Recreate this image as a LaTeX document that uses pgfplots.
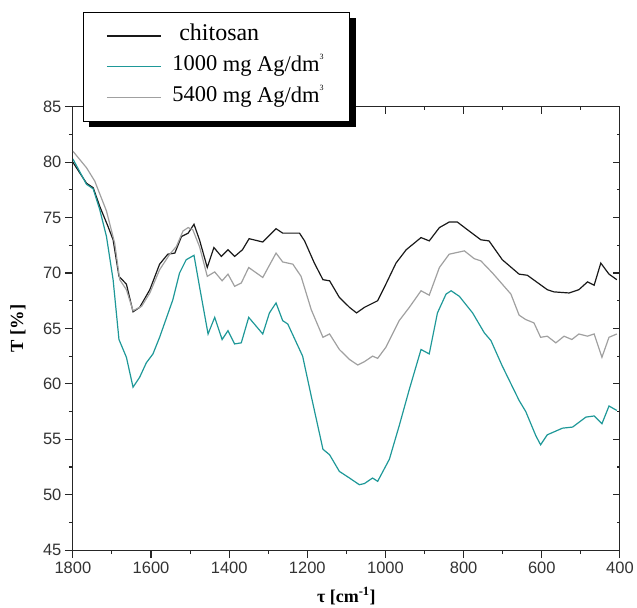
\documentclass[border=0pt]{standalone}
\usepackage{fontspec}
\setmainfont{Liberation Serif}
\newfontfamily\sansf{Liberation Sans}
\usepackage{pgfplots}
\pgfplotsset{compat=1.18}
\usetikzlibrary{shadows}
\definecolor{tealc}{RGB}{30,152,152}
\definecolor{grayc}{RGB}{160,160,160}
\definecolor{blackc}{RGB}{25,25,25}

\pgfplotstableread{
x y
1800 80.0
1765 78.1
1748 77.7
1731 76.0
1710 74.2
1697 73.0
1682 69.7
1663 69.0
1646 66.5
1629 66.9
1603 68.5
1578 70.8
1557 71.7
1539 71.8
1522 73.3
1505 73.6
1490 74.4
1476 73.0
1456 70.5
1439 72.3
1420 71.5
1403 72.1
1386 71.5
1366 72.1
1349 73.1
1314 72.8
1280 74.0
1263 73.6
1220 73.6
1207 72.9
1182 70.9
1160 69.4
1143 69.3
1118 67.8
1092 66.9
1074 66.4
1054 66.9
1020 67.5
1003 68.7
973 70.9
947 72.1
909 73.2
888 72.9
862 74.1
837 74.6
816 74.6
790 73.9
756 73.0
735 72.9
701 71.2
658 69.9
637 69.8
586 68.5
569 68.3
530 68.2
505 68.5
483 69.2
466 68.9
449 70.9
428 69.9
408 69.4
}\chitosan

\pgfplotstableread{
x y
1800 80.3
1765 78.0
1748 77.6
1731 75.7
1714 73.3
1697 69.4
1682 64.0
1663 62.4
1646 59.7
1629 60.6
1612 61.9
1595 62.7
1578 64.2
1544 67.6
1527 70.0
1510 71.2
1490 71.6
1476 68.8
1454 64.5
1437 66.0
1418 64.0
1403 64.8
1386 63.6
1369 63.7
1350 66.0
1314 64.5
1297 66.4
1280 67.3
1263 65.7
1250 65.4
1212 62.5
1190 58.9
1160 54.1
1143 53.6
1118 52.1
1092 51.5
1067 50.9
1054 51.0
1033 51.5
1020 51.2
990 53.2
965 56.2
939 59.5
909 63.1
888 62.7
867 66.4
845 68.1
832 68.4
811 67.9
777 66.4
747 64.6
730 63.9
701 61.6
658 58.5
641 57.5
615 55.3
603 54.5
586 55.4
547 56.0
521 56.1
487 57.0
466 57.1
446 56.4
428 58.0
408 57.6
}\thousand

\pgfplotstableread{
x y
1800 81.0
1765 79.5
1744 78.3
1714 75.6
1693 72.7
1680 69.4
1663 68.5
1646 66.6
1624 67.0
1603 68.2
1578 70.3
1552 71.7
1535 72.4
1518 73.8
1505 74.1
1493 73.9
1476 72.4
1456 69.7
1437 70.1
1418 69.3
1403 69.9
1386 68.8
1369 69.1
1350 70.5
1314 69.6
1280 71.8
1263 71.0
1237 70.8
1216 69.7
1190 66.7
1160 64.2
1143 64.5
1118 63.1
1092 62.2
1071 61.7
1054 62.0
1033 62.5
1020 62.3
999 63.3
965 65.7
939 66.9
909 68.4
888 68.0
862 70.5
837 71.7
798 72.0
773 71.3
756 71.1
726 70.0
679 68.1
658 66.2
641 65.8
620 65.5
603 64.2
586 64.3
564 63.7
543 64.3
523 64.0
505 64.5
483 64.3
466 64.5
446 62.4
428 64.2
408 64.5
}\fivek

\pgfplotsset{
  myaxis/.style={
    width=548pt, height=444pt, scale only axis,
    xmin=400, xmax=1800, ymin=45, ymax=85, x dir=reverse,
    xtick={400,600,...,1800}, ytick={45,50,...,85},
    minor x tick num=1, minor y tick num=1,
    axis line style={-, line width=1.1pt, black!85},
    every tick/.style={line width=1.1pt, black!85},
    /pgf/number format/assume math mode=true,
    /pgf/number format/1000 sep={},
    tick label style={font=\sansf\fontsize{16.5}{16.5}\selectfont, text=black!80},
  }
}

\begin{document}
\begin{tikzpicture}
\begin{axis}[myaxis,
  axis x line*=top, axis y line*=right, tick align=inside,
  xticklabels={}, yticklabels={},
  major tick length=7pt, minor tick length=3pt, clip=false]
\path (axis description cs:-0.1332,-0.1306) rectangle (axis description cs:1.0292,1.241);
\end{axis}
\begin{axis}[myaxis,
  axis x line*=bottom, axis y line*=left, tick align=outside,
  major tick length=8pt, minor tick length=4pt,
  xlabel={\bfseries τ [cm\textsuperscript{-1}]},
  ylabel={\bfseries T [\%]},
  xlabel style={at={(axis description cs:0.5,-0.104)}, anchor=center, font=\fontsize{18}{18}\selectfont},
  ylabel style={at={(axis description cs:-0.1004,0.5)}, anchor=center, font=\fontsize{18.5}{18.5}\selectfont},
  legend cell align=left,
  legend image code/.code={%
    \begin{scope}[#1, line width=1.2pt]
    \pgfpathmoveto{\pgfpoint{0pt}{0pt}}%
    \pgfpathlineto{\pgfpoint{54pt}{0pt}}%
    \pgfusepath{stroke}%
    \end{scope}},
  legend style={at={(axis description cs:0.0182,1.214)}, anchor=north west,
    draw=black, line width=1pt, fill=white,
    drop shadow={shadow xshift=6pt, shadow yshift=-6pt, fill=black, opacity=1},
    font=\fontsize{22.5}{27}\selectfont,
    inner xsep=23pt, inner ysep=8pt, row sep=0pt, column sep=8pt,
    nodes={inner xsep=3pt, inner ysep=4.5pt, text height=16pt, text depth=6pt}},
]
\addplot[blackc, line width=1.2pt] table[x=x,y=y] {\chitosan};
\addlegendentry{\hspace{7pt}\fontsize{24}{27}\selectfont chitosan}
\addplot[tealc, line width=1.2pt] table[x=x,y=y] {\thousand};
\addlegendentry{\raisebox{1.5pt}{1000} mg Ag/dm\raisebox{1.2ex}{\fontsize{8}{8}\selectfont 3}}
\addplot[grayc, line width=1.2pt] table[x=x,y=y] {\fivek};
\addlegendentry{\raisebox{1.5pt}{5400} mg Ag/dm\raisebox{1.2ex}{\fontsize{8}{8}\selectfont 3}}
\end{axis}
\end{tikzpicture}
\end{document}
